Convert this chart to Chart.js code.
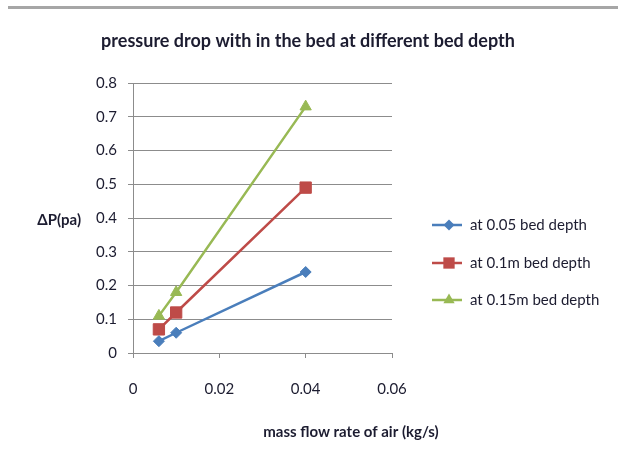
<!DOCTYPE html>
<html>
<head>
<meta charset="utf-8">
<script src="https://cdn.jsdelivr.net/npm/chart.js@4/dist/chart.umd.min.js"></script>
<style>
  body { margin: 0; background: #fff; }
  #wrap { position: relative; width: 618px; height: 466px; }
  #frame { position: absolute; left: 8px; right: 0; top: 6px; height: 3px; background: #a6a6a6; }
</style>
</head>
<body>
<div id="wrap">
  <div id="frame"></div>
  <canvas id="bedChart" width="618" height="466"></canvas>
</div>
<script>
const massFlow = [0.006, 0.01, 0.04];
const depth005 = [0.035, 0.06, 0.24];
const depth01 = [0.07, 0.12, 0.49];
const depth015 = [0.11, 0.18, 0.73];
const seriesNames = ['at 0.05 bed depth', 'at 0.1m bed depth', 'at 0.15m bed depth'];
const xTicks = [0, 0.02, 0.04, 0.06];
const yTicks = [0, 0.1, 0.2, 0.3, 0.4, 0.5, 0.6, 0.7, 0.8];

const chartTitle = 'pressure drop with in the bed at different bed depth';
const xTitle = 'mass flow rate of air (kg/s)';
const yTitle = 'ΔP(pa)';

const FONT = 'Lato, "Open Sans", sans-serif';
const TEXT = '#1c1c30';

function toPoints(ys) {
    return ys.map((y, i) => ({ x: massFlow[i], y: y }));
}

const seriesStyles = [
    { color: '#4a7ebb', point: 'rectRot', radius: 5.5 },
    { color: '#be4b48', point: 'rect', radius: 8 },
    { color: '#98b954', point: 'triangle', radius: 6.5 }
];

const datasets = [depth005, depth01, depth015].map((ys, i) => ({
    label: seriesNames[i],
    data: toPoints(ys),
    showLine: true,
    borderColor: seriesStyles[i].color,
    backgroundColor: seriesStyles[i].color,
    borderWidth: 2.5,
    pointStyle: seriesStyles[i].point,
    pointRadius: seriesStyles[i].radius,
    pointBorderWidth: 1
}));

// marker used in the hand-drawn legend
function drawMarker(ctx, style, x, y, r) {
    ctx.beginPath();
    if (style === 'rectRot') {
        ctx.moveTo(x, y - r); ctx.lineTo(x + r, y); ctx.lineTo(x, y + r); ctx.lineTo(x - r, y);
    } else if (style === 'rect') {
        const h = r * Math.SQRT1_2;
        ctx.rect(x - h, y - h, 2 * h, 2 * h);
    } else {
        ctx.moveTo(x, y - r); ctx.lineTo(x + r * 0.87, y + r * 0.5); ctx.lineTo(x - r * 0.87, y + r * 0.5);
    }
    ctx.closePath();
    ctx.fill();
}

const textPlugin = {
    id: 'bedTexts',
    afterDraw(chart) {
        const ctx = chart.ctx;
        ctx.save();
        ctx.fillStyle = TEXT;
        ctx.textBaseline = 'middle';

        ctx.font = 'bold 18px ' + FONT;
        ctx.textAlign = 'center';
        ctx.fillText(chartTitle, 308, 41);

        ctx.font = 'bold 15px ' + FONT;
        ctx.fillText(xTitle, 351, 432);
        ctx.textAlign = 'right';
        ctx.fillText(yTitle, 81, 220);

        // legend: line with marker, then label
        ctx.font = '15px ' + FONT;
        ctx.textAlign = 'left';
        const lx = 432, ly = [225, 263, 300];
        chart.data.datasets.forEach((ds, i) => {
            const st = seriesStyles[i];
            ctx.strokeStyle = st.color;
            ctx.fillStyle = st.color;
            ctx.lineWidth = 2.5;
            ctx.beginPath();
            ctx.moveTo(lx, ly[i]);
            ctx.lineTo(lx + 30, ly[i]);
            ctx.stroke();
            drawMarker(ctx, st.point, lx + 17, ly[i], st.radius);
            ctx.fillStyle = TEXT;
            ctx.fillText(ds.label, lx + 38, ly[i]);
        });
        ctx.restore();
    }
};

new Chart(document.getElementById('bedChart'), {
    type: 'scatter',
    data: { datasets: datasets },
    options: {
        responsive: false,
        devicePixelRatio: 1,
        animation: false,
        layout: { padding: { left: 0, top: 83, right: 226, bottom: 0 } },
        plugins: {
            legend: { display: false },
            title: { display: false },
            tooltip: { enabled: false }
        },
        scales: {
            x: {
                type: 'linear',
                min: 0,
                max: 0.06,
                afterBuildTicks: s => { s.ticks = xTicks.map(v => ({ value: v })); },
                afterFit: s => { s.height = 113; },
                ticks: {
                    callback: v => String(v),
                    color: TEXT,
                    font: { family: FONT, size: 15 },
                    padding: 22,
                    maxRotation: 0
                },
                grid: { drawOnChartArea: false, drawTicks: true, tickLength: 5, color: '#8c8c8c' },
                border: { color: '#8c8c8c', width: 1 }
            },
            y: {
                min: 0,
                max: 0.8,
                afterBuildTicks: s => { s.ticks = yTicks.map(v => ({ value: v })); },
                afterFit: s => { s.width = 133; },
                ticks: {
                    callback: v => String(v),
                    color: TEXT,
                    font: { family: FONT, size: 15 },
                    padding: 11
                },
                grid: { color: '#8c8c8c', tickLength: 5, lineWidth: 1 },
                border: { color: '#8c8c8c', width: 1 }
            }
        }
    },
    plugins: [textPlugin]
});
</script>
</body>
</html>
